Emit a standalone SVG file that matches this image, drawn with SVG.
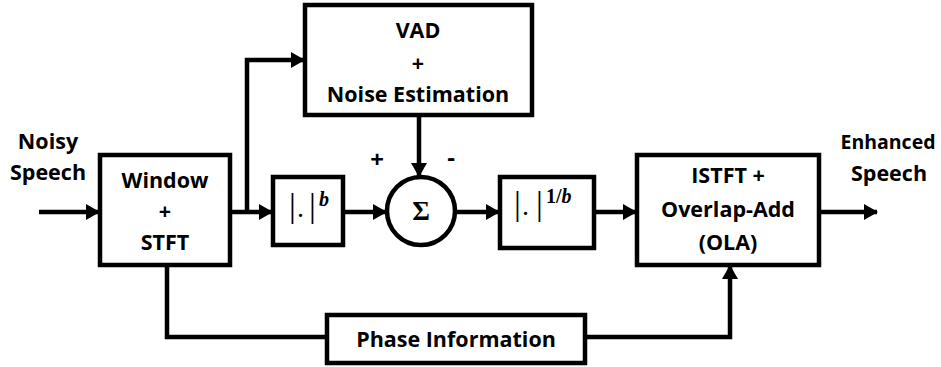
<svg xmlns="http://www.w3.org/2000/svg" width="941" height="367" viewBox="0 0 941 367">
<defs>
<marker id="ah" markerUnits="userSpaceOnUse" markerWidth="14" markerHeight="16" refX="13" refY="8" orient="auto">
<path d="M0,0 L14,8 L0,16 Z" fill="#000"/>
</marker>
<style>
.box{fill:#fff;stroke:#000;stroke-width:4.5}
.t{font-family:"Open Sans","Liberation Sans",sans-serif;font-weight:bold;font-size:21.5px;text-anchor:middle;fill:#000}
.m{font-family:"Liberation Serif","DejaVu Serif",serif;fill:#000}
.c{fill:none;stroke:#000;stroke-width:4.5}
</style>
</defs>
<rect width="941" height="367" fill="#fff"/>
<g id="connectors">
<path class="c" d="M39,212 H99" marker-end="url(#ah)"/>
<path class="c" d="M230,212 H272" marker-end="url(#ah)"/>
<path class="c" d="M247,212 V60 H304" marker-end="url(#ah)"/>
<path class="c" d="M343,212 H386" marker-end="url(#ah)"/>
<path class="c" d="M419,115 V176" marker-end="url(#ah)"/>
<path class="c" d="M455,212 H499" marker-end="url(#ah)"/>
<path class="c" d="M594,212 H636" marker-end="url(#ah)"/>
<path class="c" d="M819,212 H877" marker-end="url(#ah)"/>
<path class="c" d="M167,265 V337 H327"/>
<path class="c" d="M585,337 H730 V266" marker-end="url(#ah)"/>
</g>
<g id="input-label">
<text class="t" x="48" y="149">Noisy</text>
<text class="t" x="48" y="180">Speech</text>
</g>
<g id="output-label">
<text class="t" x="888" y="149" style="font-size:19.5px">Enhanced</text>
<text class="t" x="889" y="181">Speech</text>
</g>
<g id="window-stft">
<rect class="box" x="100" y="155" width="130" height="110"/>
<text class="t" x="165" y="188">Window</text>
<text class="t" x="165" y="219">+</text>
<text class="t" x="165" y="250">STFT</text>
</g>
<g id="vad">
<rect class="box" x="305" y="5" width="227" height="110"/>
<text class="t" x="418" y="38">VAD</text>
<text class="t" x="418" y="71">+</text>
<text class="t" x="418" y="102">Noise Estimation</text>
</g>
<g id="power-b">
<rect class="box" x="273" y="177" width="70" height="68"/>
<text class="m" y="217" font-size="34"><tspan x="289">|</tspan><tspan x="297" font-size="28">.</tspan><tspan x="309">|</tspan></text>
<text class="m" x="319" y="206" font-size="20" font-weight="bold" font-style="italic">b</text>
</g>
<g id="sum">
<circle cx="421" cy="211" r="34" fill="#fff" stroke="#000" stroke-width="4.5"/>
<text class="m" x="421" y="220" font-size="27" font-weight="bold" text-anchor="middle">Σ</text>
<text class="t" x="377" y="168" style="font-size:24px">+</text>
<text class="t" x="451" y="166" style="font-size:24px">-</text>
</g>
<g id="power-inv-b">
<rect class="box" x="500" y="177" width="94" height="71"/>
<text class="m" y="215" font-size="34"><tspan x="514">|</tspan><tspan x="522" font-size="28">.</tspan><tspan x="536">|</tspan></text>
<text class="m" x="546" y="203" font-size="20" font-weight="bold">1/<tspan font-style="italic">b</tspan></text>
</g>
<g id="istft-ola">
<rect class="box" x="637" y="155" width="182" height="110"/>
<text class="t" x="728" y="183">ISTFT +</text>
<text class="t" x="728" y="217">Overlap-Add</text>
<text class="t" x="728" y="250">(OLA)</text>
</g>
<g id="phase">
<rect class="box" x="327" y="315" width="258" height="48"/>
<text class="t" x="456" y="347">Phase Information</text>
</g>
</svg>
